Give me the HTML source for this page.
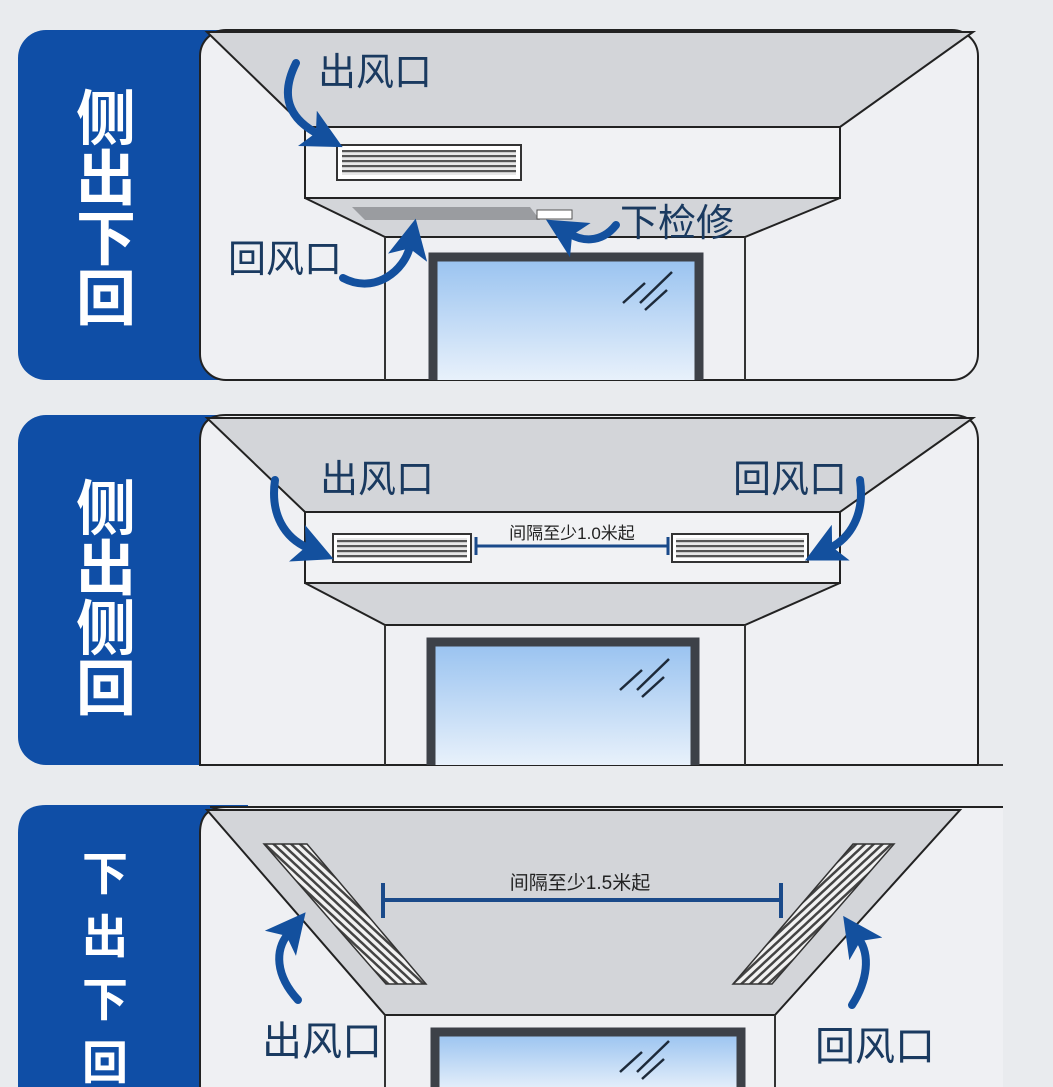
<!DOCTYPE html>
<html><head><meta charset="utf-8">
<style>
html,body{margin:0;padding:0;background:#e9ebee;}
svg{display:block}
text{font-family:"Liberation Sans","Noto Sans CJK SC",sans-serif;}
</style></head><body>
<svg width="1053" height="1087" viewBox="0 0 1053 1087" xmlns="http://www.w3.org/2000/svg">
<defs>
<linearGradient id="glass" x1="0" y1="0" x2="0" y2="1">
<stop offset="0" stop-color="#98c2f0"/><stop offset="1" stop-color="#e8f1fb"/>
</linearGradient>
<pattern id="slatsH" width="10" height="5" patternUnits="userSpaceOnUse">
<rect width="10" height="5" fill="#e8e8e8"/><rect y="0" width="10" height="2.2" fill="#555"/>
</pattern>
<pattern id="slatsD1" width="6" height="6" patternUnits="userSpaceOnUse" patternTransform="rotate(-47)">
<rect width="6" height="6" fill="#f2f2f2"/><rect width="2.5" height="6" fill="#444"/>
</pattern>
<pattern id="slatsD2" width="6" height="6" patternUnits="userSpaceOnUse" patternTransform="rotate(47)">
<rect width="6" height="6" fill="#f2f2f2"/><rect width="2.5" height="6" fill="#444"/>
</pattern>
<marker id="ah" markerWidth="5" markerHeight="5" refX="1.5" refY="2.5" orient="auto" markerUnits="strokeWidth">
<path d="M0,0 L5,2.5 L0,5 L1.2,2.5 z" fill="#13509e"/>
</marker>
</defs>
<rect width="1053" height="1087" fill="#e9ebee"/>

<!-- ============ PANEL 1 ============ -->
<rect x="18" y="30" width="230" height="350" rx="28" fill="#0f4ea6"/>
<rect x="200" y="30" width="778" height="350" rx="26" fill="#eff0f3" stroke="#222" stroke-width="2"/>
<path d="M207,32 L973,32 L840,127 L305,127 Z" fill="#d3d5d9" stroke="#222" stroke-width="2"/>
<rect x="305" y="127" width="535" height="71" fill="#f1f2f4" stroke="#222" stroke-width="2"/>
<rect x="337" y="145" width="184" height="35" fill="#fff" stroke="#333" stroke-width="2"/>
<rect x="342" y="150" width="174" height="25" fill="url(#slatsH)"/>
<path d="M305,198 L840,198 L745,237 L385,237 Z" fill="#d3d5d9" stroke="#222" stroke-width="2"/>
<path d="M352,207 L530,207 L540,220 L365,220 Z" fill="#9a9ca0"/>
<rect x="537" y="210" width="35" height="9" fill="#fff" stroke="#555" stroke-width="1"/>
<line x1="385" y1="237" x2="385" y2="380" stroke="#333" stroke-width="2"/>
<line x1="745" y1="237" x2="745" y2="380" stroke="#333" stroke-width="2"/>
<rect x="433" y="257" width="266" height="123" fill="url(#glass)"/>
<path d="M433,380 V257 H699 V380" fill="none" stroke="#3d4148" stroke-width="9"/>
<g stroke="#1d2a3a" stroke-width="2.5"><line x1="623" y1="303" x2="645" y2="283"/><line x1="640" y1="303" x2="672" y2="272"/><line x1="645" y1="310" x2="667" y2="290"/></g>
<text x="318" y="85" font-size="38" fill="#1a3a60">出风口</text>
<text x="228" y="272" font-size="38" fill="#1a3a60">回风口</text>
<text x="620" y="236" font-size="38" fill="#1a3a60">下检修</text>
<g fill="none" stroke="#13509e" stroke-width="8" stroke-linecap="round">
<path d="M296,63 C280,95 288,118 318,134" marker-end="url(#ah)"/>
<path d="M343,278 C375,295 405,270 410,246" marker-end="url(#ah)"/>
<path d="M616,225 C600,245 580,240 570,234" marker-end="url(#ah)"/>
</g>
<text font-size="60" font-weight="bold" fill="#fff" text-anchor="middle"><tspan x="106" y="140">侧</tspan><tspan x="106" y="200">出</tspan><tspan x="106" y="260">下</tspan><tspan x="106" y="320">回</tspan></text>

<!-- ============ PANEL 2 ============ -->
<rect x="18" y="415" width="230" height="350" rx="28" fill="#0f4ea6"/>
<path d="M226,415 L952,415 Q978,415 978,441 L978,765 L200,765 L200,441 Q200,415 226,415 Z" fill="#eff0f3" stroke="#222" stroke-width="2"/>
<line x1="978" y1="765" x2="1003" y2="765" stroke="#333" stroke-width="2"/>
<path d="M207,418 L973,418 L840,512 L305,512 Z" fill="#d3d5d9" stroke="#222" stroke-width="2"/>
<rect x="305" y="512" width="535" height="71" fill="#f1f2f4" stroke="#222" stroke-width="2"/>
<rect x="333" y="534" width="138" height="28" fill="#fff" stroke="#333" stroke-width="2"/>
<rect x="337" y="538" width="130" height="20" fill="url(#slatsH)"/>
<rect x="672" y="534" width="136" height="28" fill="#fff" stroke="#333" stroke-width="2"/>
<rect x="676" y="538" width="128" height="20" fill="url(#slatsH)"/>
<g stroke="#1a4a8a" stroke-width="3"><line x1="476" y1="546" x2="668" y2="546"/><line x1="476" y1="537" x2="476" y2="555"/><line x1="668" y1="537" x2="668" y2="555"/></g>
<text x="572" y="539" font-size="17" fill="#222" text-anchor="middle">间隔至少1.0米起</text>
<path d="M305,583 L840,583 L745,625 L385,625 Z" fill="#d3d5d9" stroke="#222" stroke-width="2"/>
<line x1="385" y1="625" x2="385" y2="765" stroke="#333" stroke-width="2"/>
<line x1="745" y1="625" x2="745" y2="765" stroke="#333" stroke-width="2"/>
<rect x="431" y="642" width="264" height="123" fill="url(#glass)"/>
<path d="M431,765 V642 H695 V765" fill="none" stroke="#3d4148" stroke-width="9"/>
<g stroke="#1d2a3a" stroke-width="2.5"><line x1="620" y1="690" x2="642" y2="670"/><line x1="637" y1="690" x2="669" y2="659"/><line x1="642" y1="697" x2="664" y2="677"/></g>
<text x="320" y="492" font-size="38" fill="#1a3a60">出风口</text>
<text x="733" y="492" font-size="38" fill="#1a3a60">回风口</text>
<g fill="none" stroke="#13509e" stroke-width="8" stroke-linecap="round">
<path d="M275,480 C270,515 285,538 308,548" marker-end="url(#ah)"/>
<path d="M860,480 C865,515 850,538 830,548" marker-end="url(#ah)"/>
</g>
<text font-size="60" font-weight="bold" fill="#fff" text-anchor="middle"><tspan x="106" y="530">侧</tspan><tspan x="106" y="590">出</tspan><tspan x="106" y="650">侧</tspan><tspan x="106" y="710">回</tspan></text>

<!-- ============ PANEL 3 ============ -->
<path d="M46,805 L248,805 L248,1087 L18,1087 L18,833 Q18,805 46,805 Z" fill="#0f4ea6"/>
<path d="M226,807 L1003,807 L1003,1087 L200,1087 L200,833 Q200,807 226,807 Z" fill="#eff0f3"/>
<line x1="210" y1="807" x2="1003" y2="807" stroke="#222" stroke-width="2"/>
<path d="M200,833 Q200,807 226,807" fill="none" stroke="#222" stroke-width="2"/>
<line x1="200" y1="833" x2="200" y2="1087" stroke="#222" stroke-width="2"/>
<path d="M207,810 L960,810 L775,1015 L385,1015 Z" fill="#d3d5d9" stroke="#222" stroke-width="2"/>
<path d="M264,844 L307,844 L426,984 L386,984 Z" fill="url(#slatsD1)" stroke="#333" stroke-width="1.5"/>
<path d="M853,844 L894,844 L772,984 L733,984 Z" fill="url(#slatsD2)" stroke="#333" stroke-width="1.5"/>
<g stroke="#1a4a8a" stroke-width="4"><line x1="383" y1="900" x2="781" y2="900"/><line x1="383" y1="883" x2="383" y2="918"/><line x1="781" y1="883" x2="781" y2="918"/></g>
<text x="580" y="889" font-size="19" fill="#222" text-anchor="middle">间隔至少1.5米起</text>
<line x1="385" y1="1015" x2="385" y2="1087" stroke="#333" stroke-width="2"/>
<line x1="775" y1="1015" x2="775" y2="1087" stroke="#333" stroke-width="2"/>
<rect x="435" y="1032" width="306" height="60" fill="url(#glass)" stroke="#3d4148" stroke-width="9"/>
<g stroke="#1d2a3a" stroke-width="2.5"><line x1="620" y1="1072" x2="642" y2="1052"/><line x1="637" y1="1072" x2="669" y2="1041"/><line x1="642" y1="1079" x2="664" y2="1059"/></g>
<text x="262" y="1055" font-size="40" fill="#1a3a60">出风口</text>
<text x="815" y="1060" font-size="40" fill="#1a3a60">回风口</text>
<g fill="none" stroke="#13509e" stroke-width="8" stroke-linecap="round">
<path d="M298,1000 C275,975 275,950 288,934" marker-end="url(#ah)"/>
<path d="M852,1005 C868,980 870,955 859,939" marker-end="url(#ah)"/>
</g>
<text font-size="46" font-weight="bold" fill="#fff" text-anchor="middle"><tspan x="105" y="890">下</tspan><tspan x="105" y="953">出</tspan><tspan x="105" y="1016">下</tspan><tspan x="105" y="1079">回</tspan></text>
</svg>
</body></html>
